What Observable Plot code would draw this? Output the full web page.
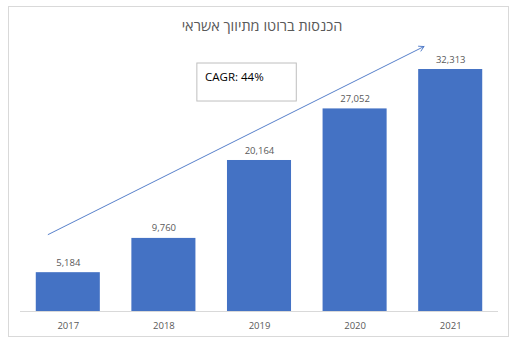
<!DOCTYPE html>
<html><head><meta charset="utf-8">
<script src="https://cdn.jsdelivr.net/npm/d3@7"></script>
<script src="https://cdn.jsdelivr.net/npm/@observablehq/plot@0.6"></script>
<style>
body{margin:0;background:#fff;font-family:"Open Sans",sans-serif;}
#wrap{position:relative;width:530px;height:354px;}
#border{position:absolute;left:8px;top:6px;width:501px;height:331px;border:1px solid #d9d9d9;box-sizing:border-box;}
#title{position:absolute;left:0;top:16px;width:524px;text-align:center;font-size:14.5px;color:#595959;direction:rtl;}
#chart{position:absolute;left:0;top:0;}
</style></head>
<body><div id="wrap"><div id="border"></div><div id="chart"></div><div id="title">הכנסות ברוטו מתיווך אשראי</div></div>
<script>
const years = [2017, 2018, 2019, 2020, 2021];
const revenue = [5184, 9760, 20164, 27052, 32313];
const cagrLabel = ["CAGR: 44%"];
// annotation positions in data units (year, value)
const arrowFrom = [2016.79, 10280];
const arrowTo = [2020.72, 35380];
const boxCorners = [[2018.35, 33115], [2019.39, 28040]];
const labelAt = [2018.43, 31300];

const data = years.map((y, i) => ({year: y, value: revenue[i]}));
const half = 0.335;
const fmt = d3.format(",");

const plot = Plot.plot({
  width: 530, height: 354,
  marginLeft: 20, marginRight: 32, marginTop: 41.4, marginBottom: 43,
  style: {fontFamily: "'Open Sans', sans-serif", background: "transparent"},
  x: {type: "linear", domain: [2016.5, 2021.5], axis: null},
  y: {domain: [0, 36000], axis: null},
  marks: [
    Plot.rectY(data, {x1: d => d.year - half, x2: d => d.year + half, y: "value", fill: "#4472C4"}),
    Plot.ruleY([0], {stroke: "#d9d9d9"}),
    Plot.text(data, {x: "year", y: "value", text: d => fmt(d.value), dy: -10, fontSize: 9.5, fill: "#595959"}),
    Plot.text(data, {x: "year", y: 0, text: d => String(d.year), dy: 14, fontSize: 9.5, fill: "#595959"}),
    Plot.arrow([0], {x1: () => arrowFrom[0], y1: () => arrowFrom[1], x2: () => arrowTo[0], y2: () => arrowTo[1], stroke: "#4472C4", strokeWidth: 0.9, headLength: 9, bend: false}),
    Plot.rect([0], {x1: () => boxCorners[0][0], y1: () => boxCorners[0][1], x2: () => boxCorners[1][0], y2: () => boxCorners[1][1], fill: "white", stroke: "#bfbfbf"}),
    Plot.text(cagrLabel, {x: () => labelAt[0], y: () => labelAt[1], text: d => d, textAnchor: "start", fontSize: 11.5, fill: "#000"})
  ]
});
document.getElementById("chart").appendChild(plot);
</script></body></html>
